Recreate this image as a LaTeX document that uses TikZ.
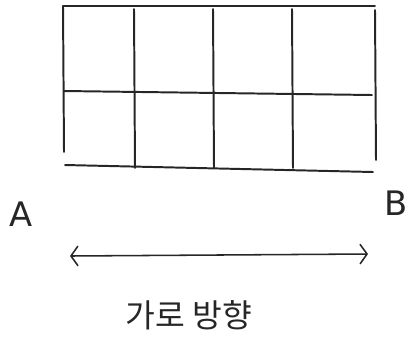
\documentclass[tikz,border=0pt]{standalone}
\usepackage{fontspec}
\setsansfont{DejaVu Sans}
\newfontfamily\korfont{Noto Sans CJK KR}
\usetikzlibrary{arrows.meta}

\begin{document}
\begin{tikzpicture}[
    x=0.025cm, y=-0.025cm,
    font=\sffamily,
    % ── shared styles ──
    grid line/.style={draw=black!85, line width=1.4pt, line cap=round},
    end label/.style={font=\fontsize{24}{26}\selectfont\sffamily, text=black!85},
    dir label/.style={font=\fontsize{23}{25}\selectfont\korfont, text=black!85},
    span arrow/.style={{Straight Barb[length=5pt, width=14pt]}-{Straight Barb[length=5pt, width=14pt]},
        draw=black!85, line width=1.1pt},
]
\useasboundingbox (0,0) rectangle (408,345);

% ══════════════════════════════════════════════════════════════════════
%  DIMENSIONS
% ══════════════════════════════════════════════════════════════════════
\def\gL{63}  \def\gR{375}
\def\gT{6}   \def\gM{91}   \def\gB{168}
\def\cA{134} \def\cB{213}  \def\cC{292}

% ══════════════════════════════════════════════════════════════════════
%  GRID  (4 x 2 cells)
% ══════════════════════════════════════════════════════════════════════
\draw[grid line] (\gL,\gT) -- (\gR,\gT);
\draw[grid line] (\gL+1,\gM) -- (\gR-3,\gM+4);
\draw[grid line] (\gL+2,\gB-3) -- (\gR-2,\gB+4);
\draw[grid line] (\gL,\gT) -- (\gL+1,\gB-16);
\draw[grid line] (\gR,\gT+4) -- (\gR+1,\gB-8);
\foreach \cx in {\cA,\cB,\cC}
  \draw[grid line] (\cx,\gT+3) -- (\cx+1,\gB);

% ══════════════════════════════════════════════════════════════════════
%  END LABELS + DIRECTION
% ══════════════════════════════════════════════════════════════════════
\node[end label] (labA) at (21,214) {A};
\node[end label] (labB) at (396,203) {B};

\coordinate (spanL) at (70,256);
\coordinate (spanR) at (368,254);
\draw[span arrow] (spanL) -- (spanR);

\node[dir label] (dirtext) at (189,315) {가로 방향};

\end{tikzpicture}
\end{document}
